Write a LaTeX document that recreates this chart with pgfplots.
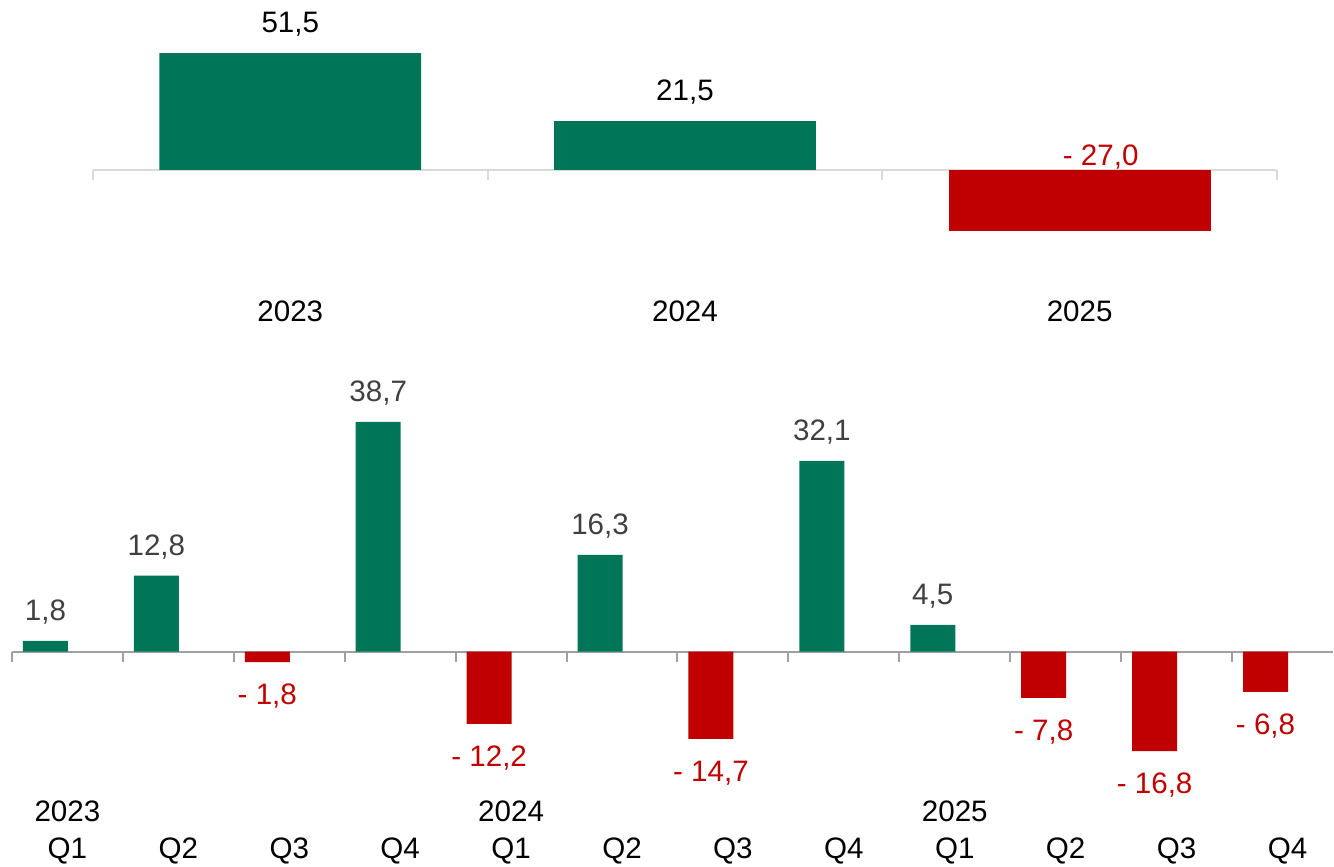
\documentclass[border=0pt]{standalone}
\usepackage{fontspec}
\setmainfont{Liberation Sans}
\usepackage{pgfplots}
\usepackage{pgfplotstable}
\pgfplotsset{compat=1.18}

\definecolor{posgreen}{HTML}{007558}
\definecolor{negred}{HTML}{C00000}
\definecolor{lblgray}{HTML}{404040}
\definecolor{toplinegray}{HTML}{D9D9D9}
\definecolor{botlinegray}{HTML}{A0A0A0}

% yearly totals
\pgfplotstableread{
x y label
0 51.5 {51,5}
1 21.5 {21,5}
}\yearpos
\pgfplotstableread{
x y label
2 -27.0 {- 27,0}
}\yearneg

% quarterly values
\pgfplotstableread{
x y label
0 1.8 {1,8}
1 12.8 {12,8}
3 38.7 {38,7}
5 16.3 {16,3}
7 32.1 {32,1}
8 4.5 {4,5}
}\qpos
\pgfplotstableread{
x y label
2 -1.8 {- 1,8}
4 -12.2 {- 12,2}
6 -14.7 {- 14,7}
9 -7.8 {- 7,8}
10 -16.8 {- 16,8}
11 -6.8 {- 6,8}
}\qneg

\newcommand{\lblfont}{\fontsize{14.8}{17.8}\selectfont}

\pgfplotsset{
  common/.style={
    axis y line=none,
    axis x line=middle,
    clip=false,
    ybar,
    major tick length=0pt,
    minor tick length=5pt,
    xtick align=outside,
    xticklabel style={anchor=base, inner sep=0pt, font=\lblfont, text=black},
    nodes near coords={\pgfplotspointmeta},
    point meta=explicit symbolic,
  },
}

\begin{document}
\begin{tikzpicture}
\path (0pt,0pt) rectangle (667pt,-433.5pt);

% annual
\begin{axis}[common,
  at={(46.5pt,-119.05pt)}, anchor=south west,
  x=197.5pt, y=1.135pt,
  xmin=-0.5, xmax=2.5, ymin=-30, ymax=55,
  xtick={0,1,2}, xticklabels={2023,2024,2025},
  minor xtick={-0.5,0.5,1.5,2.5},
  axis line style={-, draw=toplinegray, line width=1pt},
  tick style={draw=toplinegray, line width=1pt},
  xticklabel style={yshift=-76pt},
  bar width=131pt, bar shift=0pt,
]
\addplot[fill=posgreen, draw=none,
  nodes near coords style={anchor=base, inner sep=0pt, yshift=10.25pt, font=\lblfont, text=black}]
  table[x=x, y=y, meta=label] {\yearpos};
\addplot[fill=negred, draw=none,
  nodes near coords style={anchor=base, inner sep=0pt, yshift=32.9pt, xshift=10.5pt, font=\lblfont, text=negred}]
  table[x=x, y=y, meta=label] {\yearneg};
\end{axis}

% quarterly
\begin{axis}[common,
  at={(6pt,-385.4pt)}, anchor=south west,
  x=55.5pt, y=2.97pt,
  xmin=-0.5, xmax=11.41, ymin=-20, ymax=42,
  xtick={0,...,11}, xticklabels={Q1,Q2,Q3,Q4,Q1,Q2,Q3,Q4,Q1,Q2,Q3,Q4},
  minor xtick={-0.5,0.5,...,10.5},
  axis line style={-, draw=botlinegray, line width=1pt},
  tick style={draw=botlinegray, line width=1pt},
  xticklabel style={yshift=-103.5pt},
  bar width=22.5pt, bar shift=-11pt,
]
\addplot[fill=posgreen, draw=none,
  nodes near coords style={anchor=base, inner sep=0pt, yshift=10.25pt, font=\lblfont, text=lblgray}]
  table[x=x, y=y, meta=label] {\qpos};
\addplot[fill=negred, draw=none,
  nodes near coords style={anchor=base, inner sep=0pt, yshift=-21.25pt, font=\lblfont, text=negred}]
  table[x=x, y=y, meta=label] {\qneg};
\node[anchor=base, inner sep=0pt, font=\lblfont, yshift=-85pt] at (axis cs:0,0) {2023};
\node[anchor=base, inner sep=0pt, font=\lblfont, yshift=-85pt] at (axis cs:4,0) {2024};
\node[anchor=base, inner sep=0pt, font=\lblfont, yshift=-85pt] at (axis cs:8,0) {2025};
\end{axis}
\end{tikzpicture}
\end{document}
